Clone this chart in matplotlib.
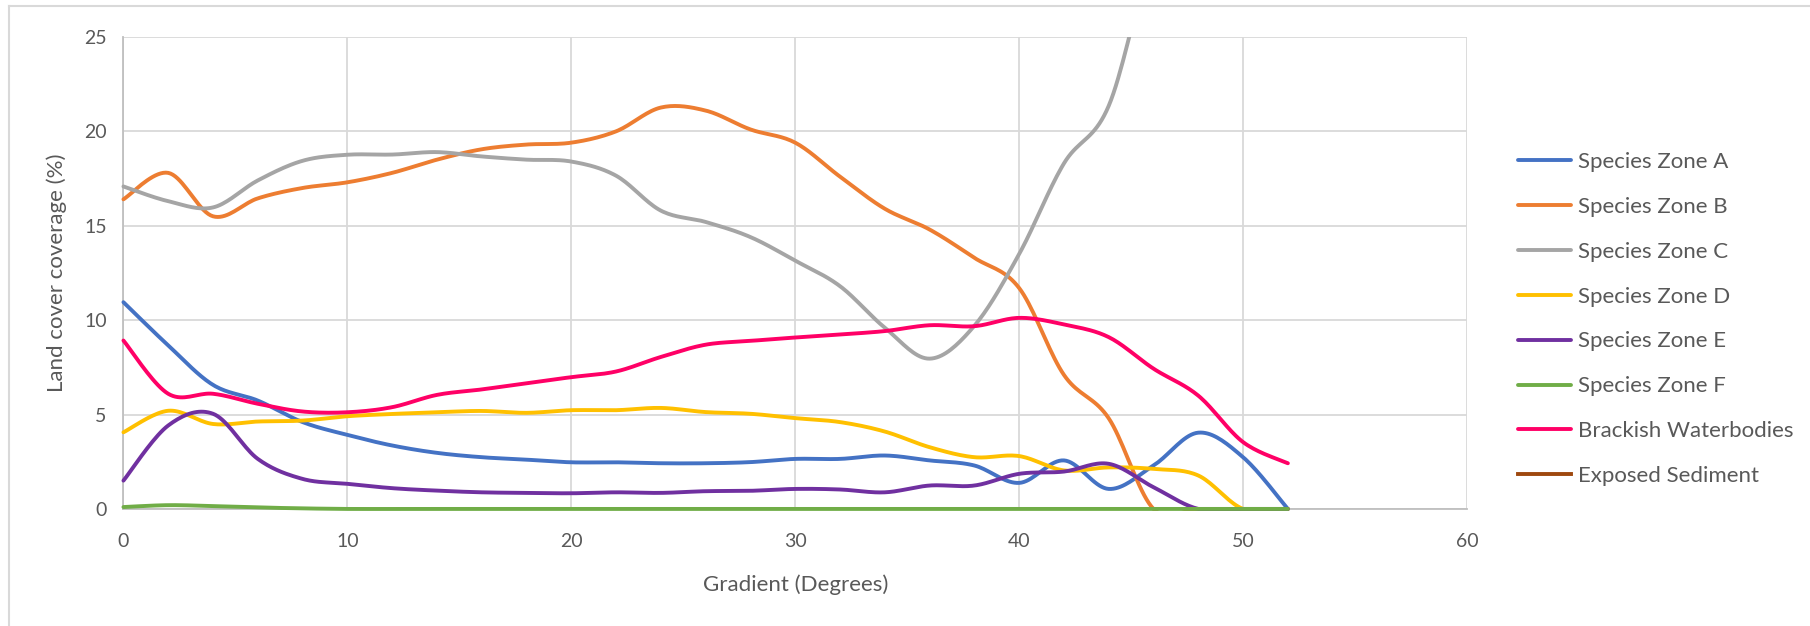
import numpy as np
import matplotlib.pyplot as plt
from matplotlib.lines import Line2D
from matplotlib.patches import Rectangle

plt.rcParams['font.family'] = ['Lato', 'DejaVu Sans']

# gradient (degrees)
gradient = [0, 2, 4, 6, 8, 10, 12, 14, 16, 18, 20, 22, 24, 26,
            28, 30, 32, 34, 36, 38, 40, 42, 44, 46, 48, 50, 52]

zone_a = [10.95, 8.66, 6.57, 5.74, 4.6, 3.92, 3.36, 2.97, 2.74, 2.61, 2.47, 2.47, 2.42, 2.42,
          2.48, 2.65, 2.65, 2.83, 2.57, 2.3, 1.38, 2.57, 1.06, 2.3, 4.04, 2.74, 0]
zone_b = [16.4, 17.8, 15.5, 16.45, 17.0, 17.3, 17.8, 18.5, 19.05, 19.3, 19.4, 20.0, 21.26, 21.1,
          20.1, 19.4, 17.6, 15.9, 14.8, 13.3, 11.7, 7.1, 4.8, 0, 0, 0, 0]
zone_c = [17.08, 16.3, 15.97, 17.4, 18.44, 18.76, 18.77, 18.9, 18.67, 18.5, 18.4, 17.65, 15.8, 15.2,
          14.4, 13.15, 11.8, 9.6, 7.96, 9.7, 13.5, 18.3, 21.35, 29.5, 33.0, 38.0, 45.0]
zone_d = [4.06, 5.2, 4.5, 4.63, 4.68, 4.91, 5.03, 5.12, 5.19, 5.09, 5.23, 5.23, 5.35, 5.13,
          5.04, 4.81, 4.6, 4.1, 3.27, 2.74, 2.8, 2.04, 2.2, 2.12, 1.77, 0, 0]
zone_e = [1.5, 4.42, 5.04, 2.65, 1.59, 1.33, 1.1, 0.97, 0.88, 0.85, 0.83, 0.88, 0.85, 0.94,
          0.96, 1.06, 1.03, 0.88, 1.24, 1.24, 1.86, 1.98, 2.39, 1.15, 0, 0, 0]
zone_f = [0.1, 0.2, 0.15, 0.08, 0.03, 0, 0, 0, 0, 0, 0, 0, 0, 0,
          0, 0, 0, 0, 0, 0, 0, 0, 0, 0, 0, 0, 0]
brackish = [8.92, 6.1, 6.1, 5.57, 5.16, 5.12, 5.39, 6.04, 6.33, 6.66, 6.98, 7.28, 8.05, 8.7,
            8.9, 9.08, 9.24, 9.42, 9.73, 9.68, 10.12, 9.77, 9.1, 7.43, 6.0, 3.54, 2.42]
exposed = [np.nan] * len(gradient)  # no visible data

names = ['Species Zone A', 'Species Zone B', 'Species Zone C', 'Species Zone D',
         'Species Zone E', 'Species Zone F', 'Brackish Waterbodies', 'Exposed Sediment']
colors = ['#4472C4', '#ED7D31', '#A5A5A5', '#FFC000',
          '#7030A0', '#70AD47', '#FF0066', '#9E480E']
series = [zone_a, zone_b, zone_c, zone_d, zone_e, zone_f, brackish, exposed]


def smooth(x, y, n=20):
    # excel style smoothed line (bezier through points)
    x = np.asarray(x, float)
    y = np.asarray(y, float)
    px = np.concatenate([[x[0]], x, [x[-1]]])
    py = np.concatenate([[y[0]], y, [y[-1]]])
    xs, ys = [], []
    t = np.linspace(0, 1, n)
    for i in range(1, len(px) - 2):
        p0 = np.array([px[i], py[i]])
        p3 = np.array([px[i + 1], py[i + 1]])
        p1 = p0 + (np.array([px[i + 1], py[i + 1]]) - np.array([px[i - 1], py[i - 1]])) / 6
        p2 = p3 - (np.array([px[i + 2], py[i + 2]]) - np.array([px[i], py[i]])) / 6
        b = ((1 - t) ** 3)[:, None] * p0 + (3 * (1 - t) ** 2 * t)[:, None] * p1 \
            + (3 * (1 - t) * t ** 2)[:, None] * p2 + (t ** 3)[:, None] * p3
        xs.extend(b[:, 0])
        ys.extend(b[:, 1])
    return np.array(xs), np.array(ys)


fig = plt.figure(figsize=(18.1, 6.26), dpi=100)
ax = fig.add_axes([0.0682, 0.187, 0.8105 - 0.0682, 0.941 - 0.187])

# clip at the top, and just under the 0 line so lines on it keep full width
clip = Rectangle((-0.01, -0.004), 1.02, 1.004, transform=ax.transAxes,
                 facecolor='none', edgecolor='none')
ax.add_patch(clip)

for name, col, vals in zip(names, colors, series):
    if np.all(np.isnan(vals)):
        ax.plot([], [], color=col, lw=2.8, label=name)
        continue
    sx, sy = smooth(gradient, vals)
    ln, = ax.plot(sx, sy, color=col, lw=2.8, label=name, solid_capstyle='round', zorder=3)
    ln.set_clip_path(clip)

ax.set_xlim(0, 60)
ax.set_ylim(0, 25)
ax.set_xticks(range(0, 61, 10))
ax.set_yticks(range(0, 26, 5))
ax.grid(True, color='#d9d9d9', lw=1.3)
ax.set_axisbelow(True)
for s in ['top', 'right']:
    ax.spines[s].set_visible(False)
for s in ['left', 'bottom']:
    ax.spines[s].set_color('#bfbfbf')
    ax.spines[s].set_linewidth(1.3)
    ax.spines[s].set_zorder(1)
ax.tick_params(length=0, labelsize=14, labelcolor='#595959')
ax.tick_params(axis='x', pad=17)
ax.tick_params(axis='y', pad=12)
ax.set_xlabel('Gradient (Degrees)', fontsize=16, color='#595959', labelpad=18)
ax.set_ylabel('Land cover coverage (%)', fontsize=16, color='#595959', labelpad=12.5)

fig.legend(loc='center left', bbox_to_anchor=(0.8387, 0.4904), frameon=False,
           fontsize=16, handlelength=2.4, handletextpad=0.3, labelspacing=1.12,
           borderpad=0, borderaxespad=0, labelcolor='#595959')

# chart area border
fig.add_artist(Line2D([0.005, 1], [0.99, 0.99], color='#d9d9d9', lw=1.5))
fig.add_artist(Line2D([0.005, 0.005], [0, 0.99], color='#d9d9d9', lw=1.5))

fig.savefig('out.png', dpi=100)
